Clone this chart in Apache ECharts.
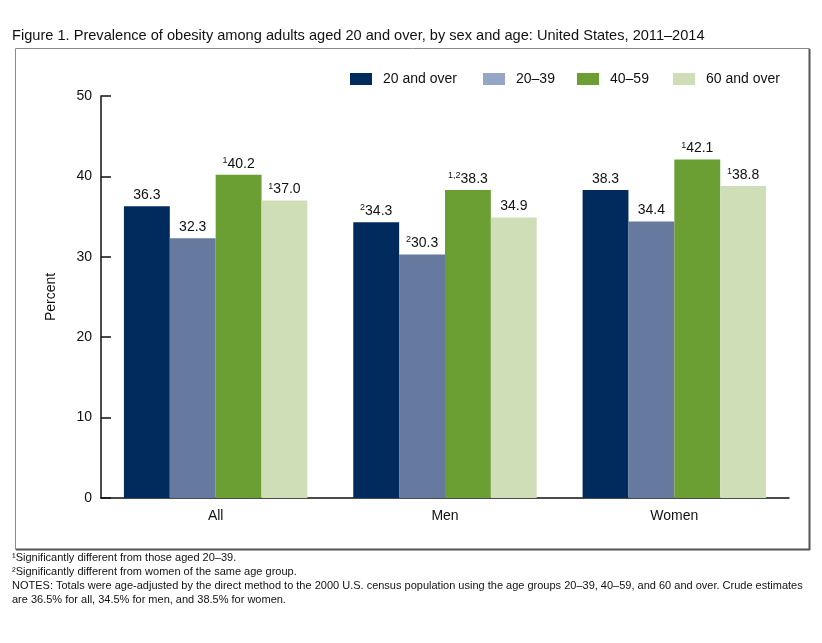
<!DOCTYPE html>
<html>
<head>
<meta charset="utf-8">
<script src="https://cdn.jsdelivr.net/npm/echarts@6/dist/echarts.min.js"></script>
<style>
html,body{margin:0;padding:0;background:#fff;}
#c{width:822px;height:643px;}
</style>
</head>
<body>
<div id="c"></div>
<script>
var categories = ['All', 'Men', 'Women'];
var seriesNames = ['20 and over', '20\u201339', '40\u201359', '60 and over'];
var v20over = [36.3, 34.3, 38.3];
var v2039 = [32.3, 30.3, 34.4];
var v4059 = [40.2, 38.3, 42.1];
var v60over = [37.0, 34.9, 38.8];
var m20over = ['', '2', ''];
var m2039 = ['', '2', ''];
var m4059 = ['1', '1,2', '1'];
var m60over = ['1', '', '1'];
var yTicks = [0, 10, 20, 30, 40, 50];

var barColors = ['#002b5c', '#66799f', '#6c9f33', '#d0deb8'];
var legendColors = ['#002b5c', '#95a6c6', '#6c9f33', '#d0deb8'];
var legendLefts = [350, 483, 577, 673];
var FONT = 'Liberation Sans, Arial, sans-serif';

var allVals = [v20over, v2039, v4059, v60over];
var allMarks = [m20over, m2039, m4059, m60over];

var series = seriesNames.map(function (name, i) {
  return {
    name: name,
    type: 'bar',
    data: allVals[i],
    barGap: '0%',
    barCategoryGap: '20%',
    itemStyle: { color: barColors[i] },
    label: {
      show: true,
      position: 'top',
      distance: 3,
      formatter: function (p) {
        var mk = allMarks[i][p.dataIndex];
        var txt = p.value.toFixed(1);
        return mk ? '{s|' + mk + '}{v|' + txt + '}' : '{v|' + txt + '}';
      },
      rich: {
        s: { fontSize: 9, fontFamily: FONT, color: '#111', verticalAlign: 'top', lineHeight: 16 },
        v: { fontSize: 14, fontFamily: FONT, color: '#111', lineHeight: 16 }
      }
    }
  };
});

var legends = seriesNames.map(function (name, i) {
  return {
    data: [{ name: name, itemStyle: { color: legendColors[i] } }],
    left: legendLefts[i],
    top: 72,
    itemWidth: 22,
    itemHeight: 12,
    itemGap: 0,
    padding: 0,
    icon: 'rect',
    selectedMode: false,
    textStyle: { fontSize: 14, fontFamily: FONT, color: '#111', padding: [0, 0, 0, 6] }
  };
});

var footLines = [
  '\u00b9Significantly different from those aged 20\u201339.',
  '\u00b2Significantly different from women of the same age group.',
  'NOTES: Totals were age-adjusted by the direct method to the 2000 U.S. census population using the age groups 20\u201339, 40\u201359, and 60 and over. Crude estimates',
  'are 36.5% for all, 34.5% for men, and 38.5% for women.'
];

var graphics = [
  { type: 'rect', shape: { x: 15.5, y: 48.5, width: 794, height: 501 }, style: { fill: 'none', stroke: '#8a8a8a', lineWidth: 1 }, z: -1 },
  { type: 'line', shape: { x1: 809.5, y1: 49, x2: 809.5, y2: 550 }, style: { stroke: '#555', lineWidth: 2 } },
  { type: 'line', shape: { x1: 16, y1: 549.5, x2: 810, y2: 549.5 }, style: { stroke: '#555', lineWidth: 2 } },
  { type: 'text', left: 12, top: 28, style: { text: 'Figure 1. Prevalence of obesity among adults aged 20 and over, by sex and age: United States, 2011\u20132014', fontSize: 14.6, fontFamily: FONT, fill: '#111' } }
];
footLines.forEach(function (t, i) {
  graphics.push({ type: 'text', left: 12, top: 552 + i * 14, style: { text: t, fontSize: 11, fontFamily: FONT, fill: '#111' } });
});

var chart = echarts.init(document.getElementById('c'));
chart.setOption({
  backgroundColor: '#fff',
  animation: false,
  legend: legends,
  grid: { left: 101, right: 33, top: 96, bottom: 145, containLabel: false },
  xAxis: {
    type: 'category',
    data: categories,
    axisLine: { lineStyle: { color: '#111', width: 1.5 } },
    axisTick: { show: false },
    axisLabel: { fontSize: 14, fontFamily: FONT, color: '#111', margin: 11 }
  },
  yAxis: {
    type: 'value',
    min: 0,
    max: 50,
    interval: 10,
    name: 'Percent',
    nameLocation: 'middle',
    nameGap: 43,
    nameTextStyle: { fontSize: 14, fontFamily: FONT, color: '#111' },
    axisLine: { show: true, lineStyle: { color: '#111', width: 1.5 } },
    axisTick: { show: true, inside: true, length: 10, lineStyle: { color: '#111', width: 1.5 } },
    axisLabel: {
      fontSize: 14, fontFamily: FONT, color: '#111', margin: 9,
      formatter: function (v) { return yTicks.indexOf(v) >= 0 ? String(v) : ''; }
    },
    splitLine: { show: false }
  },
  graphic: graphics,
  series: series
});
</script>
</body>
</html>
